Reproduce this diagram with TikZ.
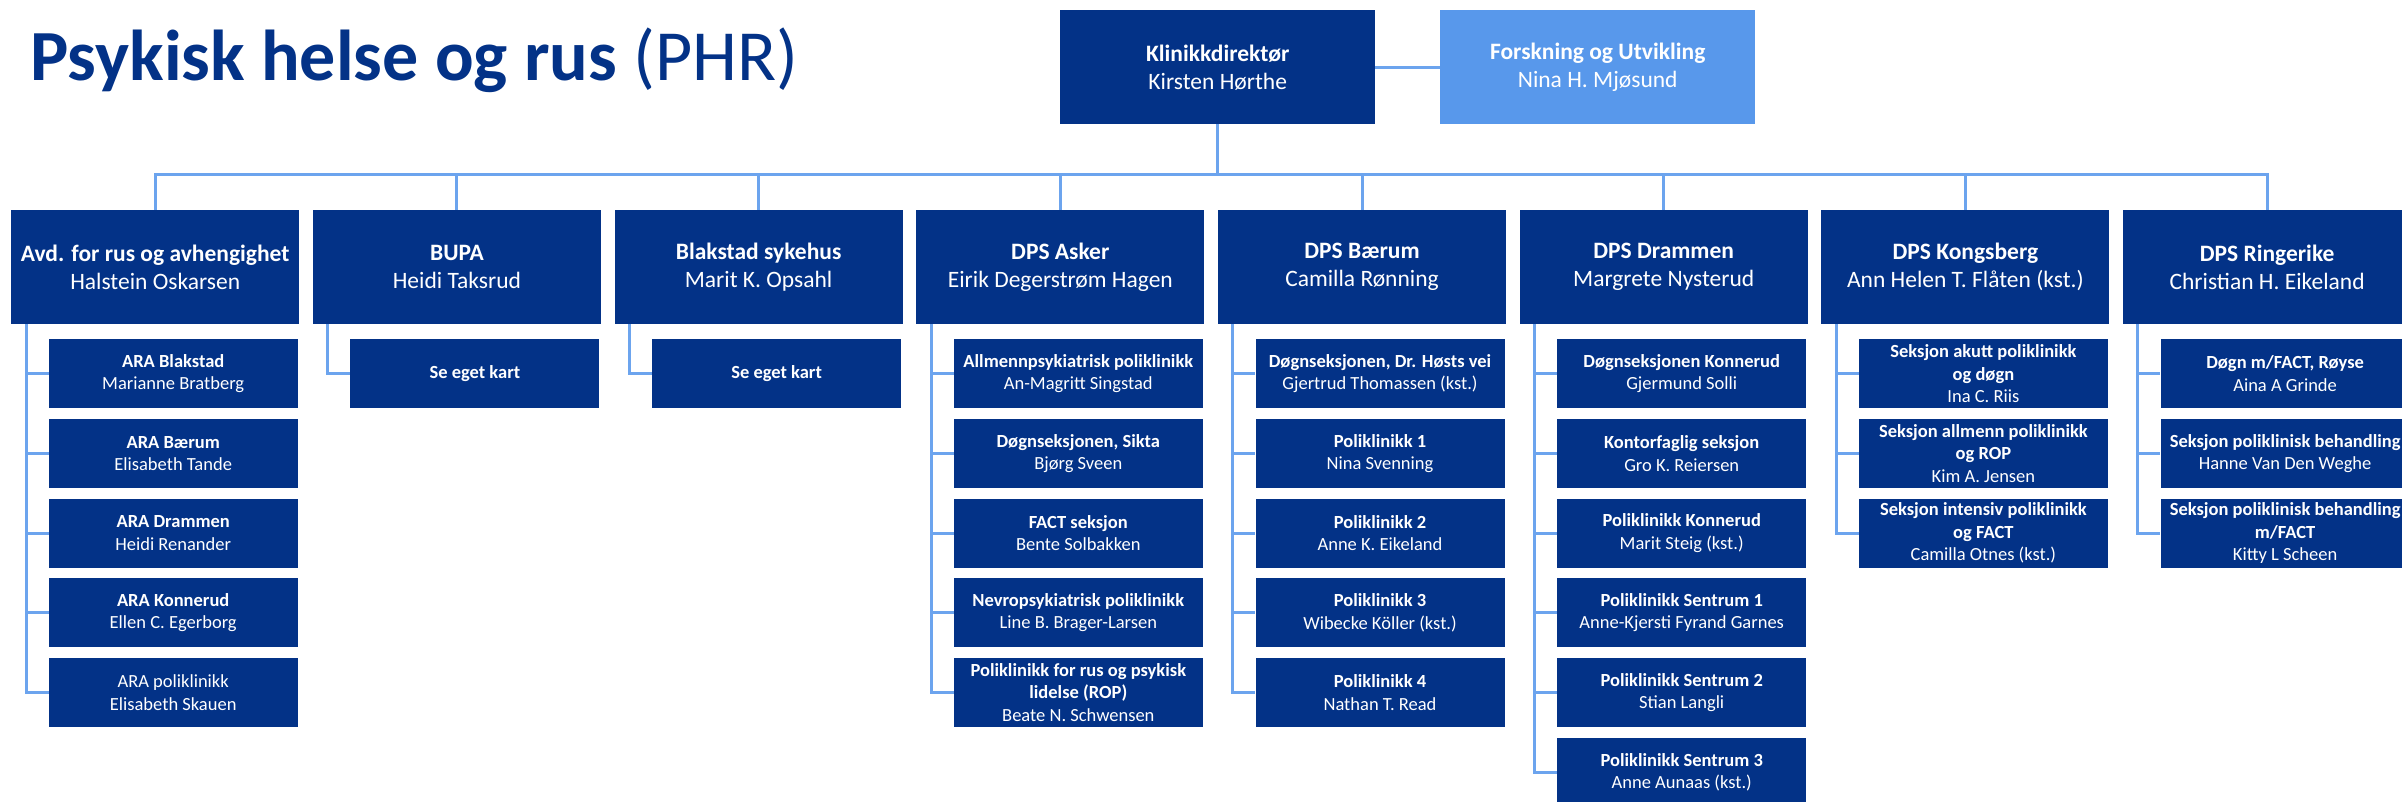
\documentclass[tikz,border=0pt]{standalone}
\usepackage{fontspec}
\setmainfont{Carlito}
\usetikzlibrary{backgrounds}
\definecolor{dblue}{RGB}{3,50,135}
\definecolor{lblue}{RGB}{88,152,235}
\definecolor{cblue}{RGB}{108,164,238}
\tikzset{
 box/.style={rectangle, fill=dblue, text=white, inner sep=0pt, align=center, anchor=north west},
 topbox/.style={box, minimum width=288pt, minimum height=114pt, font=\fontsize{23.5}{28}\selectfont},
 headbox/.style={box, minimum width=315pt, minimum height=114pt, font=\fontsize{23.5}{28}\selectfont},
 subbox/.style={box, minimum width=249pt, minimum height=69pt, font=\fontsize{18.5}{22.5}\selectfont},
 conn/.style={draw=cblue, line width=3pt},
}
\newcommand{\twol}[2]{\textbf{#1}\\#2}
\begin{document}
\begin{tikzpicture}[x=1pt,y=-1pt]
\useasboundingbox (0,0) rectangle (2402,801);
\clip (0,0) rectangle (2402,801);
\node[anchor=base west, text=dblue, font=\fontsize{72}{80}\selectfont, inner sep=0pt] (title) at (30,80) {\textbf{Psykisk helse og rus} (PHR)};
% head
\node[headbox] (k) at (1060,10) {\twol{Klinikkdirektør}{Kirsten Hørthe}};
\node[headbox, fill=lblue] (f) at (1440,10) {\twol{Forskning og Utvikling}{Nina H. Mjøsund}};
% top level
\node[topbox] (t1) at (11,210) {\twol{Avd. for rus og avhengighet}{Halstein Oskarsen}};
\node[topbox] (t2) at (312.7,210) {\twol{BUPA}{Heidi Taksrud}};
\node[topbox] (t3) at (614.4,210) {\twol{Blakstad sykehus}{Marit K. Opsahl}};
\node[topbox] (t4) at (916.1,210) {\twol{DPS Asker}{Eirik Degerstrøm Hagen}};
\node[topbox] (t5) at (1217.8,210) {\twol{DPS Bærum}{Camilla Rønning}};
\node[topbox] (t6) at (1519.5,210) {\twol{DPS Drammen}{Margrete Nysterud}};
\node[topbox] (t7) at (1821.2,210) {\twol{DPS Kongsberg}{Ann Helen T. Flåten (kst.)}};
\node[topbox] (t8) at (2122.9,210) {\twol{DPS Ringerike}{Christian H. Eikeland}};
% Avd
\node[subbox] (a1) at (48.5,339) {\twol{ARA Blakstad}{Marianne Bratberg}};
\node[subbox] (a2) at (48.5,418.7) {\twol{ARA Bærum}{Elisabeth Tande}};
\node[subbox] (a3) at (48.5,498.4) {\twol{ARA Drammen}{Heidi Renander}};
\node[subbox] (a4) at (48.5,578.1) {\twol{ARA Konnerud}{Ellen C. Egerborg}};
\node[subbox] (a5) at (48.5,657.8) {ARA poliklinikk\\Elisabeth Skauen};
% BUPA, Blakstad
\node[subbox] (b1) at (350.2,339) {\textbf{Se eget kart}};
\node[subbox] (c1) at (651.9,339) {\textbf{Se eget kart}};
% DPS Asker
\node[subbox] (d1) at (953.6,339) {\twol{Allmennpsykiatrisk poliklinikk}{An-Magritt Singstad}};
\node[subbox] (d2) at (953.6,418.7) {\twol{Døgnseksjonen, Sikta}{Bjørg Sveen}};
\node[subbox] (d3) at (953.6,498.4) {\twol{FACT seksjon}{Bente Solbakken}};
\node[subbox] (d4) at (953.6,578.1) {\twol{Nevropsykiatrisk poliklinikk}{Line B. Brager-Larsen}};
\node[subbox] (d5) at (953.6,657.8) {\textbf{Poliklinikk for rus og psykisk}\\\textbf{lidelse (ROP)}\\Beate N. Schwensen};
% DPS Baerum
\node[subbox] (e1) at (1255.3,339) {\twol{Døgnseksjonen, Dr. Høsts vei}{Gjertrud Thomassen (kst.)}};
\node[subbox] (e2) at (1255.3,418.7) {\twol{Poliklinikk 1}{Nina Svenning}};
\node[subbox] (e3) at (1255.3,498.4) {\twol{Poliklinikk 2}{Anne K. Eikeland}};
\node[subbox] (e4) at (1255.3,578.1) {\twol{Poliklinikk 3}{Wibecke Köller (kst.)}};
\node[subbox] (e5) at (1255.3,657.8) {\twol{Poliklinikk 4}{Nathan T. Read}};
% DPS Drammen
\node[subbox] (g1) at (1557,339) {\twol{Døgnseksjonen Konnerud}{Gjermund Solli}};
\node[subbox] (g2) at (1557,418.7) {\twol{Kontorfaglig seksjon}{Gro K. Reiersen}};
\node[subbox] (g3) at (1557,498.4) {\twol{Poliklinikk Konnerud}{Marit Steig (kst.)}};
\node[subbox] (g4) at (1557,578.1) {\twol{Poliklinikk Sentrum 1}{Anne-Kjersti Fyrand Garnes}};
\node[subbox] (g5) at (1557,657.8) {\twol{Poliklinikk Sentrum 2}{Stian Langli}};
\node[subbox] (g6) at (1557,737.5) {\twol{Poliklinikk Sentrum 3}{Anne Aunaas (kst.)}};
% DPS Kongsberg
\node[subbox] (h1) at (1858.7,339) {\textbf{Seksjon akutt poliklinikk}\\\textbf{og døgn}\\Ina C. Riis};
\node[subbox] (h2) at (1858.7,418.7) {\textbf{Seksjon allmenn poliklinikk}\\\textbf{og ROP}\\Kim A. Jensen};
\node[subbox] (h3) at (1858.7,498.4) {\textbf{Seksjon intensiv poliklinikk}\\\textbf{og FACT}\\Camilla Otnes (kst.)};
% DPS Ringerike
\node[subbox] (r1) at (2160.4,339) {\twol{Døgn m/FACT, Røyse}{Aina A Grinde}};
\node[subbox] (r2) at (2160.4,418.7) {\twol{Seksjon poliklinisk behandling}{Hanne Van Den Weghe}};
\node[subbox] (r3) at (2160.4,498.4) {\textbf{Seksjon poliklinisk behandling}\\\textbf{m/FACT}\\Kitty L Scheen};
% connectors
\begin{scope}[on background layer]
\coordinate (bus) at (0,174);
\draw[conn] (k.east) -- (f.west);
\draw[conn] (k.south) -- (k.south |- bus);
\draw[conn] (t1.north) -- (t1.north |- bus) -- (t8.north |- bus) -- (t8.north);
\foreach \n in {t2,t3,t4,t5,t6,t7} \draw[conn] (\n.north) -- (\n.north |- bus);
\foreach \t/\last/\others in {t1/a5/{a1,a2,a3,a4}, t2/b1/{}, t3/c1/{}, t4/d5/{d1,d2,d3,d4}, t5/e5/{e1,e2,e3,e4}, t6/g6/{g1,g2,g3,g4,g5}, t7/h3/{h1,h2}, t8/r3/{r1,r2}} {
  \coordinate (\t tr) at ([xshift=15pt]\t.south west);
  \draw[conn] (\t tr) |- (\last.west);
  \foreach \s in \others \draw[conn] (\t tr |- \s.west) -- (\s.west);
}
\end{scope}
\end{tikzpicture}
\end{document}
